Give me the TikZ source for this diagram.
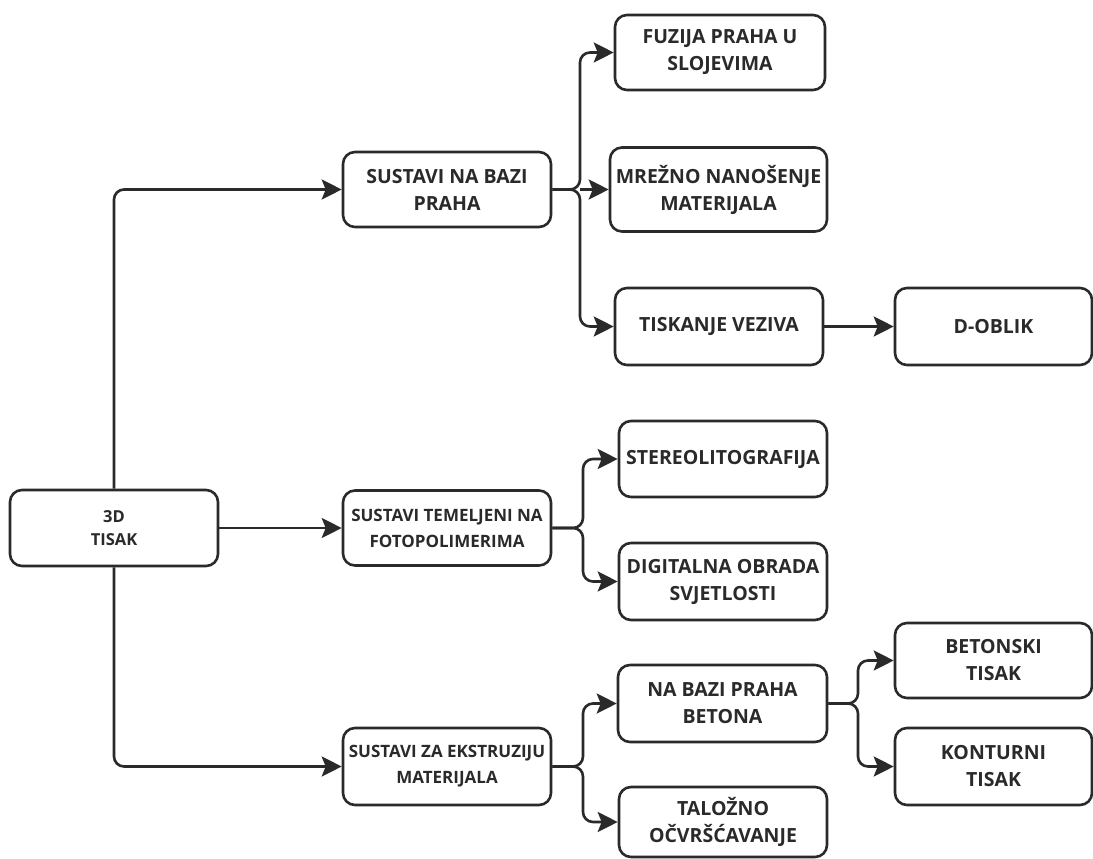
\documentclass[tikz,border=0pt]{standalone}
\usepackage{fontspec}
\setmainfont{Open Sans}
\usetikzlibrary{arrows.meta}
\definecolor{ink}{HTML}{2A2A2A}
\tikzset{
  box/.style={draw=ink, line width=2.6pt, rounded corners=12pt, fill=white,
    align=center, inner sep=0pt, text=ink, font=\bfseries\fontsize{19.5}{27}\selectfont},
  conn/.style={draw=ink, line width=2.6pt, rounded corners=10pt,
    -{Stealth[length=20pt, width=20pt, inset=4pt]}},
}
\begin{document}
\begin{tikzpicture}[x=1pt,y=-1pt]
\useasboundingbox[fill=white] (0,0) rectangle (1093,859);
\node[box, minimum width=208pt, minimum height=76pt, font=\bfseries\fontsize{16.5}{23}\selectfont] (t3d) at (114,528) {3D\\TISAK};
\node[box, minimum width=208pt, minimum height=75pt] (s1) at (447,189.5) {SUSTAVI NA BAZI\\PRAHA};
\node[box, minimum width=210pt, minimum height=75pt] (fuz) at (720,52.5) {FUZIJA PRAHA U\\SLOJEVIMA};
\node[box, minimum width=217pt, minimum height=84pt] (mre) at (718.5,189.5) {MREŽNO NANOŠENJE\\MATERIJALA};
\node[box, minimum width=208pt, minimum height=77pt] (tis) at (719,326.5) {TISKANJE VEZIVA};
\node[box, minimum width=197pt, minimum height=77pt] (dob) at (993.5,326.5) {D-OBLIK};
\node[box, minimum width=208pt, minimum height=75pt, font=\bfseries\fontsize{17}{26}\selectfont] (s2) at (447,528) {SUSTAVI TEMELJENI NA\\FOTOPOLIMERIMA};
\node[box, minimum width=208pt, minimum height=76pt] (ste) at (723,459) {STEREOLITOGRAFIJA};
\node[box, minimum width=208pt, minimum height=77pt] (dig) at (723,581.5) {DIGITALNA OBRADA\\SVJETLOSTI};
\node[box, minimum width=208pt, minimum height=77pt, font=\bfseries\fontsize{17}{26}\selectfont] (s3) at (447,766.5) {SUSTAVI ZA EKSTRUZIJU\\MATERIJALA};
\node[box, minimum width=209pt, minimum height=77pt] (nab) at (722.5,703.5) {NA BAZI PRAHA\\BETONA};
\node[box, minimum width=208pt, minimum height=70pt] (tal) at (723,822) {TALOŽNO\\OČVRŠĆAVANJE};
\node[box, minimum width=197pt, minimum height=75pt] (bet) at (993.5,660.5) {BETONSKI\\TISAK};
\node[box, minimum width=197pt, minimum height=77pt] (kon) at (993.5,766.5) {KONTURNI\\TISAK};

% trunk from 3D TISAK
\draw[conn] (t3d.north) |- (s1.west);
\draw[conn] (t3d.east) -- (s2.west);
\draw[conn] (t3d.south) |- (s3.west);

% fork from s1
\coordinate (f1) at (580,189.5);
\draw[conn] (s1.east) -- (f1) |- (fuz.west);
\draw[conn] (f1) -- (mre.west);
\draw[conn] (s1.east) -- (f1) |- (tis.west);
\draw[conn] (tis.east) -- (dob.west);

% fork from s2
\coordinate (f2) at (583,528);
\draw[conn] (s2.east) -- (f2) |- (ste.west);
\draw[conn] (s2.east) -- (f2) |- (dig.west);

% fork from s3
\coordinate (f3) at (583,766.5);
\draw[conn] (s3.east) -- (f3) |- (nab.west);
\draw[conn] (s3.east) -- (f3) |- (tal.west);

% fork from nab
\coordinate (f4) at (858,703.5);
\draw[conn] (nab.east) -- (f4) |- (bet.west);
\draw[conn] (nab.east) -- (f4) |- (kon.west);
\end{tikzpicture}
\end{document}
